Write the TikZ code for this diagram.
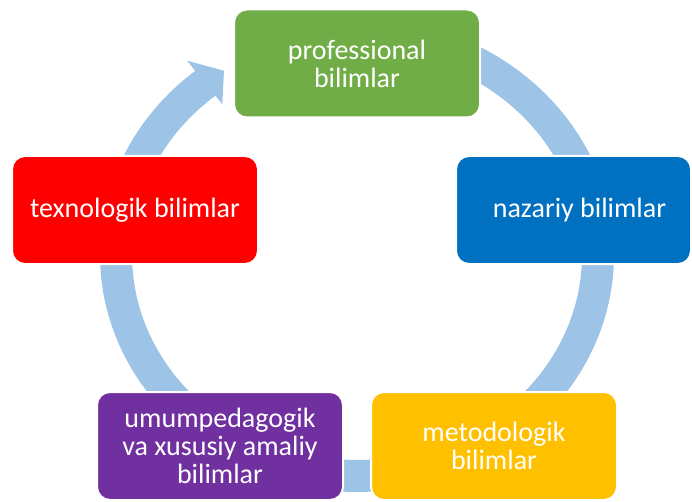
\documentclass[tikz,border=0pt]{standalone}
\usepackage{fontspec}
\setmainfont{Carlito}
\definecolor{ringblue}{HTML}{9DC3E6}
\definecolor{cgreen}{HTML}{70AD47}
\definecolor{cblue}{HTML}{0070C0}
\definecolor{cred}{HTML}{FF0000}
\definecolor{cpurple}{HTML}{7030A0}
\definecolor{cyellow}{HTML}{FFC000}
\begin{document}
\begin{tikzpicture}[x=1pt,y=-1pt,
  box/.style={rounded corners=13pt, draw=white, line width=2pt,
    minimum width=246pt, minimum height=108pt, align=center,
    text=white, inner sep=0pt, font=\fontsize{28}{28}\selectfont},
  ringfill/.style={fill=ringblue}]
\useasboundingbox (0,0) rectangle (692,502);
% ring with arrow head
\fill[ringfill]
  plot[domain=80:-231, samples=120, variable=\t] ({357+257*cos(\t)},{255-237*sin(\t)})
  -- ({357+270*cos(-231)},{255-250*sin(-231)})
  -- ({357+241*cos(-236.5)},{255-221*sin(-236.5)})
  -- ({357+214*cos(-231)},{255-194*sin(-231)})
  -- plot[domain=-231:80, samples=120, variable=\t] ({357+225*cos(\t)},{255-205*sin(\t)})
  -- cycle;
% boxes
\node[box, fill=cgreen] (prof) at (357,63.5) {professional\\bilimlar};
\node[box, fill=cblue, minimum width=235pt] (naz) at (573.5,210) {\hspace*{12pt}nazariy bilimlar};
\node[box, fill=cred] (tex) at (135,210) {texnologik bilimlar};
\node[box, fill=cpurple] (umum) at (220,446) {umumpedagogik\\va xususiy amaliy\\bilimlar};
\node[box, fill=cyellow] (met) at (494,446) {metodologik\\bilimlar};
\end{tikzpicture}
\end{document}
